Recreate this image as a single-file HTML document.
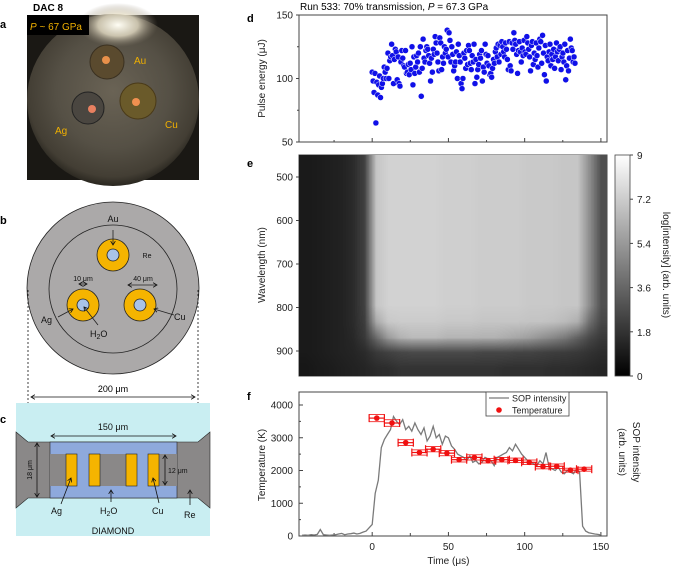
<!DOCTYPE html>
<html><head><meta charset="utf-8">
<style>
body{margin:0;background:#fff;}
#wrap{position:relative;width:677px;height:567px;overflow:hidden;font-family:"Liberation Sans",sans-serif;}
svg{position:absolute;left:0;top:0;}
#heat{position:absolute;left:299px;top:155px;}
text{font-family:"Liberation Sans",sans-serif;}
</style></head>
<body>
<div id="wrap">
<svg id="fig" width="677" height="567" viewBox="0 0 677 567">
<defs>
<radialGradient id="photoG" cx="0.5" cy="0.45" r="0.55">
<stop offset="0" stop-color="#6a6355"/><stop offset="0.6" stop-color="#555045"/><stop offset="0.9" stop-color="#433e34"/><stop offset="1" stop-color="#2a2720"/>
</radialGradient>
<radialGradient id="glow" cx="0.5" cy="0.5" r="0.5">
<stop offset="0" stop-color="#fffef5"/><stop offset="0.5" stop-color="#e8e0c8" stop-opacity="0.8"/><stop offset="1" stop-color="#8a8070" stop-opacity="0"/>
</radialGradient>
<linearGradient id="cbar" x1="0" y1="0" x2="0" y2="1">
<stop offset="0" stop-color="#fff"/><stop offset="1" stop-color="#000"/>
</linearGradient>
<marker id="ah" markerWidth="6" markerHeight="6" refX="5" refY="3" orient="auto-start-reverse"><path d="M0,0 L5,3 L0,6" fill="none" stroke="#111" stroke-width="1"/></marker>
</defs>

<text x="33" y="11" font-size="10" font-weight="bold">DAC 8</text>
<text x="0" y="28" font-size="11" font-weight="bold">a</text>
<text x="0" y="224" font-size="11" font-weight="bold">b</text>
<text x="0" y="423" font-size="11" font-weight="bold">c</text>
<text x="247" y="22" font-size="11" font-weight="bold">d</text>
<text x="247" y="167" font-size="11" font-weight="bold">e</text>
<text x="247" y="400" font-size="11" font-weight="bold">f</text>

<g>
<rect x="27" y="15" width="172" height="165" fill="#1a1814"/>
<circle cx="113" cy="100" r="86" fill="url(#photoG)"/>
<ellipse cx="118" cy="25" rx="40" ry="22" fill="url(#glow)"/>
<circle cx="107" cy="62" r="17" fill="#5a4a2e" stroke="#3a3020"/>
<circle cx="106" cy="60" r="4" fill="#e8904a"/>
<circle cx="88" cy="108" r="16" fill="#4a4640" stroke="#222"/>
<circle cx="92" cy="109" r="4" fill="#e88060"/>
<circle cx="138" cy="101" r="18" fill="#6a5a2a" stroke="#4a3a18"/>
<circle cx="136" cy="102" r="4" fill="#f09050"/>
<rect x="27" y="15" width="62" height="20" fill="#000"/>
<text x="30" y="30" font-size="10" fill="#f0b000"><tspan font-style="italic">P</tspan> ~ 67 GPa</text>
<text x="134" y="64" font-size="10" fill="#f0b000">Au</text>
<text x="55" y="134" font-size="10" fill="#f0b000">Ag</text>
<text x="165" y="128" font-size="10" fill="#f0b000">Cu</text>
</g>

<g stroke="#222" stroke-width="0.8">
<circle cx="113" cy="288" r="86" fill="#aba9a9"/>
<circle cx="113" cy="289" r="64" fill="none"/>
<circle cx="113" cy="255" r="16" fill="#f5b400"/>
<circle cx="113" cy="255" r="6" fill="#a9c3e8"/>
<circle cx="83" cy="305" r="16" fill="#f5b400"/>
<circle cx="83" cy="305" r="6" fill="#a9c3e8"/>
<circle cx="140" cy="305" r="16" fill="#f5b400"/>
<circle cx="140" cy="305" r="6" fill="#a9c3e8"/>
<line x1="113" y1="230" x2="113" y2="245" marker-end="url(#ah)"/>
<line x1="79" y1="284" x2="87" y2="284" marker-start="url(#ah)" marker-end="url(#ah)"/>
<line x1="128" y1="285" x2="157" y2="285" marker-start="url(#ah)" marker-end="url(#ah)"/>
<line x1="58" y1="317" x2="73" y2="309" marker-end="url(#ah)"/>
<line x1="174" y1="315" x2="154" y2="309" marker-end="url(#ah)"/>
<line x1="98" y1="325" x2="84" y2="307" marker-end="url(#ah)"/>
<g stroke="none" fill="#111">
<text x="113" y="222" font-size="9" text-anchor="middle">Au</text>
<text x="147" y="258" font-size="7" text-anchor="middle">Re</text>
<text x="83" y="281" font-size="7" text-anchor="middle">10 μm</text>
<text x="143" y="281" font-size="7" text-anchor="middle">40 μm</text>
<text x="41" y="323" font-size="9">Ag</text>
<text x="174" y="320" font-size="9">Cu</text>
<text x="90" y="337" font-size="9">H<tspan font-size="7" dy="2">2</tspan><tspan dy="-2">O</tspan></text>
</g>
</g>

<g stroke="#111" stroke-width="0.8" stroke-dasharray="2,2">
<line x1="28" y1="290" x2="28" y2="442"/><line x1="198" y1="290" x2="198" y2="442"/>
</g>
<line x1="31" y1="397" x2="195" y2="397" stroke="#111" stroke-width="0.8" marker-start="url(#ah)" marker-end="url(#ah)"/>
<text x="113" y="392" font-size="9" text-anchor="middle">200 μm</text>

<g>
<rect x="16" y="403" width="194" height="133" fill="#c9eef2"/>
<polygon points="16,432 28,442 198,442 210,432 210,508 198,498 28,498 16,508" fill="#8a8888" stroke="#222" stroke-width="0.6"/>
<rect x="50" y="442" width="127" height="56" fill="#8ea9dc" stroke="#222" stroke-width="0.6"/>
<rect x="50" y="454" width="127" height="32" fill="#8a8888"/>
<rect x="77" y="454" width="12" height="32" fill="#8ea9dc"/>
<rect x="137" y="454" width="11" height="32" fill="#8ea9dc"/>
<g fill="#f5b400" stroke="#222" stroke-width="0.6">
<rect x="66" y="454" width="11" height="32"/><rect x="89" y="454" width="11" height="32"/>
<rect x="126" y="454" width="11" height="32"/><rect x="148" y="454" width="11" height="32"/>
</g>
<g stroke="#111" stroke-width="0.8" fill="none">
<line x1="51" y1="436" x2="176" y2="436" marker-start="url(#ah)" marker-end="url(#ah)"/>
<line x1="37" y1="443" x2="37" y2="497" marker-start="url(#ah)" marker-end="url(#ah)"/>
<line x1="165" y1="455" x2="165" y2="485" marker-start="url(#ah)" marker-end="url(#ah)"/>
<line x1="61" y1="504" x2="71" y2="478" marker-end="url(#ah)"/>
<line x1="111" y1="502" x2="111" y2="490" marker-end="url(#ah)"/>
<line x1="159" y1="503" x2="153" y2="478" marker-end="url(#ah)"/>
<line x1="190" y1="505" x2="190" y2="490" marker-end="url(#ah)"/>
</g>
<g fill="#111" font-size="9">
<text x="113" y="430" text-anchor="middle">150 μm</text>
<text x="0" y="0" font-size="7" text-anchor="middle" transform="translate(32,470) rotate(-90)">18 μm</text>
<text x="168" y="473" font-size="7">12 μm</text>
<text x="51" y="514">Ag</text>
<text x="100" y="514">H<tspan font-size="7" dy="2">2</tspan><tspan dy="-2">O</tspan></text>
<text x="152" y="514">Cu</text>
<text x="184" y="518">Re</text>
<text x="113" y="534" text-anchor="middle">DIAMOND</text>
</g>
</g>

<text x="300" y="10" font-size="10">Run 533: 70% transmission, <tspan font-style="italic">P</tspan> = 67.3 GPa</text>

<g id="pd"></g>
<g id="pe"></g>
<g id="pf"></g>
</svg>
<canvas id="heat" width="308" height="221"></canvas>
</div>
<script>
const energyTStart = 0, energyTEnd = 133;
const energyValues = [105,98,89,104,65,97,87,95,102,85,93,96,100,109,105,100,108,120,100,114,117,127,118,96,115,123,121,99,117,96,94,113,122,116,110,109,122,104,105,111,103,112,107,125,95,117,104,109,118,113,120,105,125,86,108,131,116,113,122,125,123,118,112,98,116,105,123,119,133,128,120,113,106,132,128,107,117,112,125,120,123,138,117,136,130,113,125,119,106,110,113,121,100,127,118,113,96,92,100,120,116,108,122,111,126,122,112,107,118,113,127,96,115,101,107,111,119,116,122,98,109,105,127,119,112,118,110,103,104,101,108,115,112,121,124,117,127,113,126,119,129,125,121,117,128,123,115,107,129,110,106,128,123,136,130,127,119,104,122,129,121,113,124,118,130,121,119,133,128,123,117,106,126,129,111,120,115,128,118,109,124,131,129,112,134,120,103,126,98,117,114,121,127,110,119,115,123,108,117,128,121,114,123,125,107,117,120,113,127,99,110,122,106,116,131,124,122,113,117,112];
const energyTicks = [50,100,150];
const timeTicks = [0,50,100,150];
const wavelengthTicks = [500,600,700,800,900];
const cbarTicks = [0,1.8,3.6,5.4,7.2,9];
const tempTicks = [0,1000,2000,3000,4000];
const sopTimes = [-46,-44,-42,-40,-38,-36,-34,-32,-30,-28,-26,-24,-22,-20,-18,-16,-14,-12,-10,-8,-6,-4,-2,0,2,4,6,8,10,12,14,16,18,20,22,24,26,28,30,32,34,36,38,40,42,44,46,48,50,52,54,56,58,60,62,64,66,68,70,72,74,76,78,80,82,84,86,88,90,92,94,96,98,100,102,104,106,108,110,112,114,116,118,120,122,124,126,128,130,132,134,136,138,140,142,144,146,148,150];
const sopValues = [20,30,20,40,30,50,200,40,30,20,30,40,60,80,40,60,70,90,60,80,120,150,250,350,1300,1700,2700,2950,3100,3250,3650,3500,3400,3550,3250,3350,3200,3450,3250,3100,3300,2900,3050,3350,3000,3100,2800,3050,3000,2750,2650,2500,2450,2400,2300,2450,2250,2300,2200,2250,2400,2350,2300,2150,2400,2450,2500,2550,2700,2600,2800,2650,2500,2400,2300,2250,2200,2150,2300,2200,2550,2100,2050,2000,2100,1950,1900,2000,1950,1900,2050,1950,300,150,100,80,60,50,30];
const tempTimes = [3,13,22,31,40,49,57,67,76,85,94,103,112,121,130,139];
const tempValues = [3600,3450,2850,2550,2650,2530,2330,2400,2300,2330,2310,2250,2120,2130,2010,2040];
const tempXErr = [5,5,5,5,5,5,5,5,5,5,5,5,5,5,5,5];
const tempYErr = [110,100,90,80,80,80,70,80,70,70,70,70,70,70,60,60];
const heatBase = [0.9,1.0,1.1,1.2,1.5,2.3,7.0,7.4,7.4,7.4,7.4,7.4,7.3,7.3,7.3,7.2,7.2,7.2,7.2,7.1,7.1,7.1,7.0,7.0,5.0,2.8];
const heatRow10 = [0.9,1.0,1.1,1.2,1.5,2.2,6.0,7.1,7.2,7.2,7.2,7.2,7.1,7.1,7.1,7.0,7.0,7.0,7.0,6.9,6.9,6.8,6.6,6.2,4.0,2.5];
const heatRow11 = [0.9,1.0,1.1,1.2,1.4,2.0,3.8,5.5,6.3,6.6,6.6,6.6,6.4,6.4,6.4,6.3,6.3,6.1,5.9,5.6,5.2,4.8,4.3,3.5,2.6,2.0];
const heatRow12 = [0.9,1.0,1.1,1.2,1.3,1.5,2.0,2.3,2.5,2.6,2.6,2.6,2.6,2.6,2.6,2.5,2.5,2.5,2.4,2.4,2.3,2.2,2.1,2.0,1.8,1.6];
const heatRow13 = [0.8,0.9,1.0,1.1,1.2,1.3,1.5,1.6,1.8,1.8,1.8,1.8,1.8,1.8,1.8,1.8,1.8,1.7,1.7,1.7,1.7,1.6,1.6,1.5,1.4,1.3];
const heatGrid = [heatBase,heatBase,heatBase,heatBase,heatBase,heatBase,heatBase,heatBase,heatBase,heatBase,heatRow10,heatRow11,heatRow12,heatRow13];

const NS = "http://www.w3.org/2000/svg";
function mk(parent, tag, attrs){const e=document.createElementNS(NS,tag);for(const k in attrs)e.setAttribute(k,attrs[k]);parent.appendChild(e);return e;}
const X0=299,X1=607,TMIN=-48,TMAX=154;
const xT = t => X0 + (t-TMIN)/(TMAX-TMIN)*(X1-X0);
const yE = v => 142 - (v-50)/100*127;
const yW = w => 177 + (w-500)/100*43.5;
const yK = k => 536 - k/1000*32.75;

const pd=document.getElementById('pd');
let r=mk(pd,'rect',{x:X0,y:15,width:X1-X0,height:127,fill:'none',stroke:'#444','stroke-width':1});


energyTicks.forEach(v=>{
  const t=mk(pd,'text',{x:293,y:yE(v)+3.5,'font-size':10,'text-anchor':'end',fill:'#222'});t.textContent=v;
  
  
  mk(pd,'line',{x1:X0-3,x2:X0,y1:yE(v),y2:yE(v),stroke:'#444'});
});
[75,125].forEach(v=>mk(pd,'line',{x1:X0-2,x2:X0,y1:yE(v),y2:yE(v),stroke:'#444'}));
[0,25,50,75,100,125,150,-25].forEach(t=>mk(pd,'line',{x1:xT(t),x2:xT(t),y1:142,y2:t%50===0?138:140,stroke:'#444'}));
let yl=mk(pd,'text',{transform:`translate(265,${yE(100)}) rotate(-90)`,'font-size':10,'text-anchor':'middle',fill:'#222'});yl.textContent='Pulse energy (μJ)';


energyValues.forEach((v,i)=>{
  const t=energyTStart+i*(energyTEnd-energyTStart)/(energyValues.length-1);
  const c=mk(pd,'circle',{cx:xT(t),cy:yE(v),r:3,fill:'#1010e8',stroke:'#fff','stroke-width':0.5});
  
  
});

const pe=document.getElementById('pe');
mk(pe,'rect',{x:X0,y:155,width:X1-X0,height:221,fill:'none',stroke:'#444'});
wavelengthTicks.forEach(w=>{
  const t=mk(pe,'text',{x:293,y:yW(w)+3.5,'font-size':10,'text-anchor':'end',fill:'#222'});t.textContent=w;
  
  
  mk(pe,'line',{x1:X0-3,x2:X0,y1:yW(w),y2:yW(w),stroke:'#444'});
});
[0,25,50,75,100,125,150,-25].forEach(t=>mk(pe,'line',{x1:xT(t),x2:xT(t),y1:376,y2:t%50===0?372:374,stroke:'#444'}));
yl=mk(pe,'text',{transform:`translate(265,265) rotate(-90)`,'font-size':10,'text-anchor':'middle',fill:'#222'});yl.textContent='Wavelength (nm)';


const cb=mk(pe,'rect',{x:615,y:155,width:15,height:221,fill:'url(#cbar)',stroke:'#444','stroke-width':0.8});


cbarTicks.forEach(v=>{
  const y=376-v/9*221;
  mk(pe,'line',{x1:630,x2:633,y1:y,y2:y,stroke:'#444'});
  const t=mk(pe,'text',{x:637,y:y+4,'font-size':10,fill:'#222'});t.textContent=v;
  
  
});
yl=mk(pe,'text',{transform:`translate(663,265) rotate(90)`,'font-size':10,'text-anchor':'middle',fill:'#222'});yl.textContent='log[intensity] (arb. units)';


(function(){
  const rows=heatGrid.length, cols=heatGrid[0].length;
  const off=document.createElement('canvas');off.width=cols;off.height=rows;
  const oc=off.getContext('2d');const img=oc.createImageData(cols,rows);
  for(let j=0;j<rows;j++)for(let i=0;i<cols;i++){
    const g=Math.round(Math.min(9,Math.max(0,heatGrid[j][i]))/9*255);
    const k=(j*cols+i)*4;img.data[k]=g;img.data[k+1]=g;img.data[k+2]=g;img.data[k+3]=255;
  }
  oc.putImageData(img,0,0);
  const ctx=document.getElementById('heat').getContext('2d');
  ctx.imageSmoothingEnabled=true;
  ctx.drawImage(off,0,0,308,221);
})();

const pf=document.getElementById('pf');
mk(pf,'rect',{x:X0,y:392,width:X1-X0,height:144,fill:'none',stroke:'#444'});
tempTicks.forEach(v=>{
  const t=mk(pf,'text',{x:293,y:yK(v)+3.5,'font-size':10,'text-anchor':'end',fill:'#222'});t.textContent=v;
  
  
  mk(pf,'line',{x1:X0,x2:X0+4,y1:yK(v),y2:yK(v),stroke:'#444'});
});
[500,1500,2500,3500].forEach(v=>mk(pf,'line',{x1:X0,x2:X0+2,y1:yK(v),y2:yK(v),stroke:'#444'}));
[-25,25,75,125].forEach(t=>mk(pf,'line',{x1:xT(t),x2:xT(t),y1:536,y2:533,stroke:'#444'}));
timeTicks.forEach(tv=>{
  mk(pf,'line',{x1:xT(tv),x2:xT(tv),y1:536,y2:532,stroke:'#444'});
  const t=mk(pf,'text',{x:xT(tv),y:550,'font-size':10,'text-anchor':'middle',fill:'#222'});t.textContent=tv;
  
  
});
let xl=mk(pf,'text',{x:xT(50),y:564,'font-size':10,'text-anchor':'middle',fill:'#222'});xl.textContent='Time (μs)';


yl=mk(pf,'text',{transform:`translate(265,465) rotate(-90)`,'font-size':10,'text-anchor':'middle',fill:'#222'});yl.textContent='Temperature (K)';


yl=mk(pf,'text',{transform:`translate(633,452) rotate(90)`,'font-size':10,'text-anchor':'middle',fill:'#222'});yl.textContent='SOP intensity';


yl=mk(pf,'text',{transform:`translate(619,452) rotate(90)`,'font-size':10,'text-anchor':'middle',fill:'#222'});yl.textContent='(arb. units)';


const sop=mk(pf,'polyline',{points:sopTimes.map((t,i)=>xT(t).toFixed(1)+','+yK(sopValues[i]).toFixed(1)).join(' '),fill:'none',stroke:'#7a7a7a','stroke-width':1.3});


tempTimes.forEach((t,i)=>{
  const g=mk(pf,'g',{stroke:'#f01010','stroke-width':1.2});
  
  
  const x=xT(t),y=yK(tempValues[i]),xa=xT(t-tempXErr[i]),xb=xT(t+tempXErr[i]);
  const ya=yK(tempValues[i]-tempYErr[i]),yb=yK(tempValues[i]+tempYErr[i]);
  mk(g,'line',{x1:xa,x2:xb,y1:y,y2:y});
  mk(g,'line',{x1:xa,x2:xa,y1:y-4,y2:y+4});mk(g,'line',{x1:xb,x2:xb,y1:y-4,y2:y+4});
  mk(g,'line',{x1:xa,x2:xb,y1:ya,y2:ya,'stroke-width':0.8});mk(g,'line',{x1:xa,x2:xb,y1:yb,y2:yb,'stroke-width':0.8});
  mk(g,'circle',{cx:x,cy:y,r:2.8,fill:'#f01010',stroke:'none'});
});
const lg=mk(pf,'g',{});


mk(lg,'rect',{x:486,y:392,width:83,height:24,fill:'#fff',stroke:'#444','stroke-width':0.8});
mk(lg,'line',{x1:489,x2:509,y1:398,y2:398,stroke:'#7a7a7a','stroke-width':1.3});
mk(lg,'circle',{cx:499,cy:410,r:2.8,fill:'#f01010'});
let lt=mk(lg,'text',{x:512,y:401.5,'font-size':9,fill:'#222'});lt.textContent='SOP intensity';


lt=mk(lg,'text',{x:512,y:413.5,'font-size':9,fill:'#222'});lt.textContent='Temperature';


</script>
</body></html>
